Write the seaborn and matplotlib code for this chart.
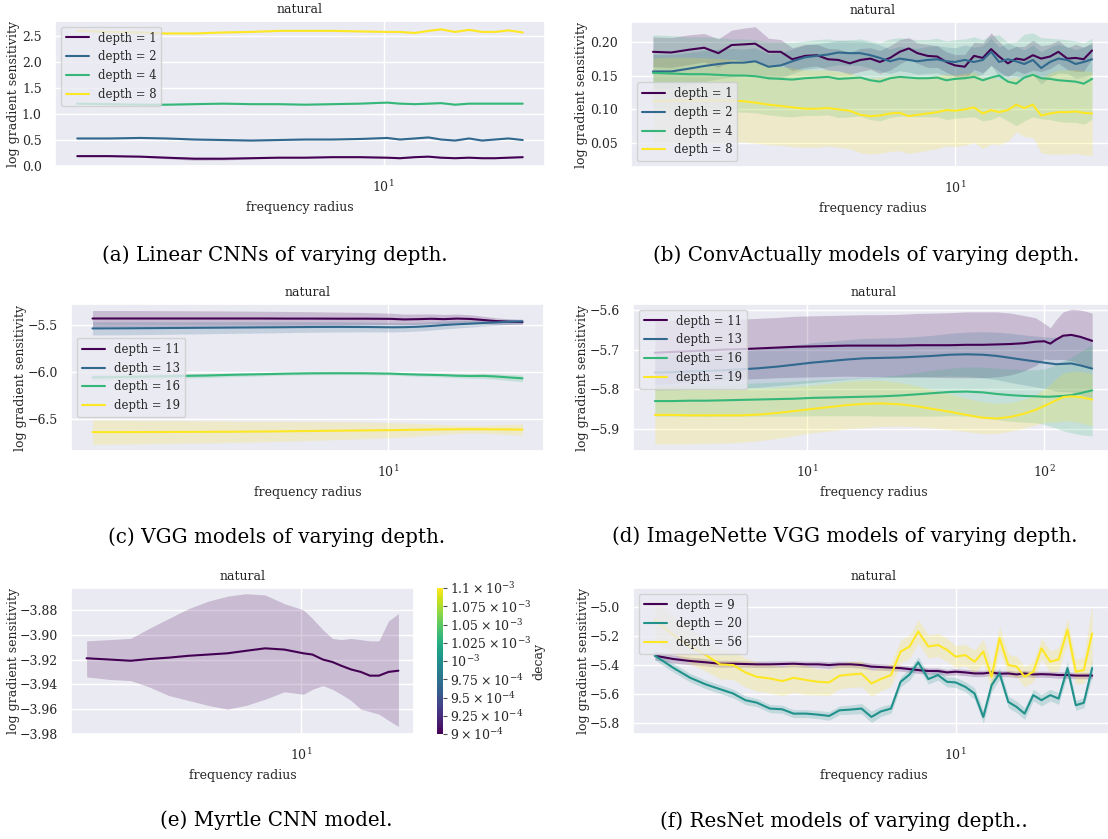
import numpy as np
import pandas as pd
import matplotlib
matplotlib.use("Agg")
import matplotlib.pyplot as plt
import seaborn as sns
from matplotlib.colors import Normalize
from matplotlib.cm import ScalarMappable
from matplotlib.lines import Line2D
from matplotlib.ticker import FixedLocator, NullFormatter

# ---------------- data ----------------
# CIFAR-type panels (a), (c), (e): frequency radius grid
XS = [1.66, 2.0, 2.4, 2.8, 3.3, 3.9, 4.6, 5.4, 6.3, 7.4, 8.7, 10.2, 11.0, 12.0, 13.0,
      14.0, 15.2, 16.5, 17.8, 19.2, 20.8, 22.6]
# denser grid for panels (b), (f)
XB = [1.66, 1.85, 2.05, 2.25, 2.45, 2.65, 2.85, 3.05, 3.3, 3.55, 3.8, 4.1, 4.4, 4.7, 5.0,
      5.35, 5.7, 6.05, 6.4, 6.8, 7.2, 7.6, 8.0, 8.5, 9.0, 9.5, 10.0, 10.6, 11.2, 11.8,
      12.4, 13.0, 13.7, 14.4, 15.1, 15.9, 16.7, 17.6, 18.5, 19.5, 20.5, 21.5, 22.6]
# ImageNette grid for panel (d)
XD = [2.29, 2.7, 3.2, 3.8, 4.5, 5.3, 6.3, 7.5, 8.9, 10.5, 12.5, 14.8, 17.5, 20.7, 24.5,
      29, 34, 40, 47, 55, 63, 72, 82, 92, 100, 106, 112, 120, 130, 142, 159]

# (a) Linear CNNs
A_DEPTHS = [1, 2, 4, 8]
A_Y = {
    1: [0.19, 0.19, 0.18, 0.16, 0.14, 0.14, 0.15, 0.16, 0.16, 0.17, 0.17, 0.16, 0.15, 0.17,
        0.18, 0.16, 0.15, 0.16, 0.15, 0.15, 0.16, 0.17],
    2: [0.53, 0.53, 0.54, 0.53, 0.51, 0.50, 0.49, 0.50, 0.51, 0.51, 0.52, 0.54, 0.51, 0.53,
        0.55, 0.51, 0.49, 0.53, 0.49, 0.51, 0.53, 0.50],
    4: [1.20, 1.19, 1.18, 1.18, 1.19, 1.20, 1.19, 1.19, 1.18, 1.19, 1.20, 1.22, 1.20, 1.19,
        1.20, 1.21, 1.18, 1.20, 1.20, 1.20, 1.20, 1.20],
    8: [2.60, 2.58, 2.57, 2.55, 2.55, 2.57, 2.58, 2.60, 2.60, 2.60, 2.59, 2.58, 2.58, 2.56,
        2.60, 2.63, 2.58, 2.62, 2.58, 2.58, 2.61, 2.57],
}
A_SD = {
    1: [0.010, 0.010, 0.012, 0.020, 0.030, 0.025, 0.015, 0.010, 0.010, 0.010, 0.010, 0.010,
        0.012, 0.010, 0.012, 0.010, 0.010, 0.012, 0.010, 0.010, 0.010, 0.010],
    2: [0.010, 0.010, 0.010, 0.012, 0.015, 0.015, 0.012, 0.010, 0.010, 0.010, 0.010, 0.012,
        0.012, 0.012, 0.015, 0.012, 0.012, 0.012, 0.012, 0.010, 0.010, 0.010],
    4: [0.010, 0.010, 0.012, 0.015, 0.012, 0.010, 0.010, 0.010, 0.010, 0.012, 0.010, 0.012,
        0.012, 0.010, 0.012, 0.012, 0.012, 0.012, 0.010, 0.010, 0.010, 0.010],
    8: [0.012, 0.012, 0.012, 0.012, 0.012, 0.012, 0.012, 0.012, 0.012, 0.012, 0.012, 0.012,
        0.012, 0.012, 0.015, 0.020, 0.015, 0.018, 0.012, 0.012, 0.012, 0.012],
}

# (b) ConvActually models
B_DEPTHS = [1, 2, 4, 8]
B_Y = {
    1: [0.185, 0.184, 0.188, 0.191, 0.183, 0.195, 0.196, 0.197, 0.185, 0.185, 0.174, 0.179,
        0.180, 0.174, 0.173, 0.168, 0.173, 0.175, 0.170, 0.176, 0.185, 0.190, 0.183, 0.179,
        0.178, 0.170, 0.165, 0.163, 0.179, 0.176, 0.189, 0.178, 0.168, 0.175, 0.173, 0.180,
        0.175, 0.178, 0.185, 0.175, 0.176, 0.174, 0.187],
    2: [0.156, 0.156, 0.160, 0.164, 0.167, 0.169, 0.169, 0.171, 0.163, 0.165, 0.171, 0.177,
        0.179, 0.181, 0.184, 0.183, 0.183, 0.180, 0.176, 0.171, 0.175, 0.173, 0.171, 0.173,
        0.174, 0.171, 0.170, 0.173, 0.170, 0.173, 0.185, 0.170, 0.174, 0.171, 0.167, 0.173,
        0.161, 0.170, 0.175, 0.173, 0.167, 0.170, 0.174],
    4: [0.154, 0.153, 0.152, 0.152, 0.151, 0.150, 0.150, 0.149, 0.146, 0.145, 0.144, 0.146,
        0.147, 0.148, 0.145, 0.146, 0.147, 0.143, 0.141, 0.146, 0.148, 0.147, 0.146, 0.146,
        0.147, 0.143, 0.145, 0.146, 0.148, 0.143, 0.147, 0.150, 0.141, 0.138, 0.147, 0.151,
        0.146, 0.145, 0.143, 0.142, 0.141, 0.138, 0.145],
    8: [0.112, 0.113, 0.113, 0.113, 0.113, 0.113, 0.112, 0.110, 0.107, 0.105, 0.103, 0.101,
        0.101, 0.102, 0.100, 0.098, 0.092, 0.090, 0.091, 0.094, 0.095, 0.090, 0.092, 0.094,
        0.096, 0.099, 0.098, 0.100, 0.103, 0.094, 0.099, 0.096, 0.099, 0.107, 0.102, 0.107,
        0.091, 0.094, 0.096, 0.096, 0.097, 0.095, 0.094],
}
B_SD = {
    1: [0.022, 0.022, 0.022, 0.021, 0.021, 0.022, 0.024, 0.025, 0.020, 0.018, 0.017, 0.017,
        0.016, 0.016, 0.016, 0.016, 0.017, 0.016, 0.017, 0.018, 0.018, 0.016, 0.015, 0.017,
        0.016, 0.015, 0.016, 0.018, 0.020, 0.022, 0.024, 0.022, 0.020, 0.018, 0.020, 0.022,
        0.019, 0.018, 0.017, 0.016, 0.020, 0.018, 0.012],
    2: [0.025, 0.025, 0.024, 0.023, 0.022, 0.021, 0.020, 0.020, 0.019, 0.019, 0.018, 0.018,
        0.018, 0.018, 0.018, 0.018, 0.018, 0.019, 0.019, 0.018, 0.018, 0.018, 0.019, 0.020,
        0.020, 0.021, 0.021, 0.022, 0.022, 0.021, 0.020, 0.022, 0.024, 0.022, 0.021, 0.022,
        0.024, 0.022, 0.021, 0.020, 0.021, 0.022, 0.022],
    4: [0.056, 0.056, 0.055, 0.055, 0.055, 0.054, 0.054, 0.054, 0.054, 0.055, 0.055, 0.055,
        0.056, 0.056, 0.057, 0.057, 0.057, 0.058, 0.058, 0.058, 0.058, 0.057, 0.057, 0.057,
        0.058, 0.058, 0.058, 0.058, 0.059, 0.060, 0.062, 0.060, 0.058, 0.062, 0.064, 0.062,
        0.060, 0.060, 0.061, 0.061, 0.060, 0.060, 0.060],
    8: [0.064, 0.064, 0.064, 0.063, 0.062, 0.061, 0.060, 0.060, 0.059, 0.058, 0.058, 0.057,
        0.057, 0.056, 0.056, 0.056, 0.056, 0.056, 0.056, 0.056, 0.056, 0.055, 0.055, 0.054,
        0.054, 0.053, 0.053, 0.053, 0.052, 0.052, 0.050, 0.048, 0.046, 0.040, 0.042, 0.048,
        0.055, 0.060, 0.062, 0.062, 0.062, 0.062, 0.062],
}

# (c) VGG models
C_DEPTHS = [11, 13, 16, 19]
C_Y = {
    11: [-5.430, -5.430, -5.430, -5.430, -5.430, -5.430, -5.430, -5.431, -5.431, -5.432,
         -5.432, -5.434, -5.440, -5.437, -5.433, -5.437, -5.431, -5.435, -5.446, -5.457,
         -5.464, -5.468],
    13: [-5.536, -5.535, -5.533, -5.531, -5.529, -5.527, -5.525, -5.523, -5.521, -5.520,
         -5.521, -5.524, -5.523, -5.518, -5.510, -5.500, -5.492, -5.485, -5.478, -5.472,
         -5.465, -5.460],
    16: [-6.060, -6.055, -6.050, -6.045, -6.040, -6.032, -6.026, -6.020, -6.016, -6.015,
         -6.016, -6.020, -6.025, -6.030, -6.033, -6.036, -6.042, -6.045, -6.044, -6.050,
         -6.060, -6.070],
    19: [-6.645, -6.645, -6.644, -6.643, -6.642, -6.641, -6.639, -6.636, -6.633, -6.630,
         -6.627, -6.624, -6.622, -6.620, -6.618, -6.616, -6.615, -6.614, -6.615, -6.616,
         -6.617, -6.618],
}
C_SD = {
    11: [0.085, 0.085, 0.084, 0.083, 0.082, 0.080, 0.078, 0.076, 0.073, 0.070, 0.066,
         0.060, 0.057, 0.055, 0.052, 0.050, 0.048, 0.045, 0.040, 0.035, 0.030, 0.025],
    13: [0.070, 0.070, 0.068, 0.066, 0.064, 0.062, 0.060, 0.058, 0.056, 0.054, 0.052,
         0.050, 0.048, 0.046, 0.044, 0.042, 0.040, 0.037, 0.034, 0.031, 0.028, 0.025],
    16: [0.030, 0.028, 0.026, 0.024, 0.022, 0.020, 0.018, 0.016, 0.015, 0.015, 0.015,
         0.016, 0.017, 0.018, 0.019, 0.020, 0.022, 0.024, 0.027, 0.030, 0.033, 0.036],
    19: [0.130, 0.128, 0.125, 0.122, 0.118, 0.114, 0.110, 0.105, 0.100, 0.095, 0.088,
         0.080, 0.075, 0.068, 0.060, 0.052, 0.045, 0.040, 0.042, 0.048, 0.055, 0.060],
}

# (d) ImageNette VGG models
D_DEPTHS = [11, 13, 16, 19]
D_Y = {
    11: [-5.708, -5.706, -5.704, -5.702, -5.700, -5.699, -5.697, -5.695, -5.693, -5.692,
         -5.691, -5.690, -5.690, -5.690, -5.690, -5.689, -5.689, -5.689, -5.688, -5.688,
         -5.687, -5.686, -5.684, -5.680, -5.679, -5.685, -5.675, -5.665, -5.663, -5.668,
         -5.678],
    13: [-5.758, -5.757, -5.755, -5.754, -5.752, -5.750, -5.747, -5.743, -5.738, -5.733,
         -5.729, -5.725, -5.722, -5.721, -5.720, -5.718, -5.716, -5.713, -5.712, -5.713,
         -5.716, -5.721, -5.726, -5.730, -5.733, -5.735, -5.737, -5.736, -5.735, -5.740,
         -5.748],
    16: [-5.830, -5.830, -5.829, -5.829, -5.828, -5.827, -5.826, -5.825, -5.824, -5.822,
         -5.821, -5.820, -5.819, -5.818, -5.816, -5.813, -5.810, -5.807, -5.806, -5.808,
         -5.812, -5.815, -5.817, -5.818, -5.819, -5.819, -5.818, -5.817, -5.815, -5.810,
         -5.803],
    19: [-5.865, -5.865, -5.866, -5.866, -5.866, -5.866, -5.864, -5.860, -5.855, -5.850,
         -5.845, -5.840, -5.837, -5.836, -5.838, -5.843, -5.850, -5.857, -5.865, -5.872,
         -5.874, -5.870, -5.862, -5.852, -5.842, -5.835, -5.828, -5.820, -5.818, -5.820,
         -5.826],
}
D_SD = {
    11: [0.080, 0.080, 0.078, 0.077, 0.076, 0.076, 0.076, 0.076, 0.077, 0.077, 0.077,
         0.077, 0.078, 0.078, 0.079, 0.080, 0.081, 0.082, 0.083, 0.083, 0.082, 0.078,
         0.070, 0.060, 0.045, 0.040, 0.050, 0.060, 0.065, 0.068, 0.070],
    13: [0.045, 0.045, 0.046, 0.046, 0.047, 0.047, 0.048, 0.048, 0.049, 0.050, 0.050,
         0.050, 0.050, 0.050, 0.050, 0.051, 0.052, 0.054, 0.056, 0.058, 0.060, 0.062,
         0.063, 0.064, 0.065, 0.066, 0.068, 0.070, 0.072, 0.074, 0.075],
    16: [0.038, 0.038, 0.039, 0.040, 0.040, 0.041, 0.042, 0.043, 0.044, 0.045, 0.046,
         0.047, 0.048, 0.050, 0.052, 0.055, 0.058, 0.060, 0.062, 0.064, 0.065, 0.066,
         0.066, 0.067, 0.070, 0.075, 0.080, 0.088, 0.095, 0.105, 0.115],
    19: [0.073, 0.073, 0.072, 0.071, 0.070, 0.068, 0.066, 0.064, 0.062, 0.060, 0.060,
         0.060, 0.060, 0.058, 0.055, 0.052, 0.048, 0.045, 0.042, 0.040, 0.038, 0.036,
         0.036, 0.038, 0.042, 0.048, 0.055, 0.060, 0.063, 0.065, 0.066],
}

# (e) Myrtle CNN model
E_DECAY = 9e-4
E_Y = [-3.919, -3.920, -3.921, -3.9196, -3.9185, -3.917, -3.916, -3.915, -3.913, -3.911,
       -3.912, -3.915, -3.916, -3.920, -3.922, -3.925, -3.928, -3.930, -3.933, -3.933,
       -3.930, -3.929]
E_HI = [-3.905, -3.904, -3.903, -3.895, -3.887, -3.879, -3.873, -3.869, -3.867, -3.868,
        -3.875, -3.880, -3.887, -3.896, -3.903, -3.904, -3.903, -3.904, -3.905, -3.905,
        -3.889, -3.883]
E_LO = [-3.934, -3.936, -3.937, -3.942, -3.949, -3.953, -3.957, -3.960, -3.957, -3.952,
        -3.946, -3.948, -3.944, -3.941, -3.944, -3.948, -3.953, -3.960, -3.962, -3.964,
        -3.969, -3.974]
DECAY_TICKS = [9e-4, 9.25e-4, 9.5e-4, 9.75e-4, 1e-3, 1.025e-3, 1.05e-3, 1.075e-3, 1.1e-3]
DECAY_LABELS = [r"$9\times10^{-4}$", r"$9.25\times10^{-4}$", r"$9.5\times10^{-4}$",
                r"$9.75\times10^{-4}$", r"$10^{-3}$", r"$1.025\times10^{-3}$",
                r"$1.05\times10^{-3}$", r"$1.075\times10^{-3}$", r"$1.1\times10^{-3}$"]

# (f) ResNet models
F_DEPTHS = [9, 20, 56]
F_Y = {
    9: [-5.334, -5.357, -5.371, -5.380, -5.390, -5.390, -5.392, -5.394, -5.394, -5.392,
        -5.390, -5.394, -5.394, -5.399, -5.394, -5.394, -5.399, -5.410, -5.413, -5.417,
        -5.420, -5.427, -5.434, -5.440, -5.440, -5.450, -5.445, -5.450, -5.457, -5.457,
        -5.450, -5.459, -5.457, -5.464, -5.457, -5.464, -5.462, -5.464, -5.468, -5.468,
        -5.472, -5.472, -5.472],
    20: [-5.334, -5.417, -5.487, -5.533, -5.566, -5.596, -5.642, -5.659, -5.700, -5.705,
         -5.735, -5.735, -5.742, -5.751, -5.712, -5.707, -5.700, -5.758, -5.720, -5.700,
         -5.515, -5.464, -5.380, -5.496, -5.468, -5.515, -5.519, -5.550, -5.596, -5.758,
         -5.538, -5.457, -5.654, -5.689, -5.735, -5.607, -5.642, -5.607, -5.631, -5.420,
         -5.677, -5.660, -5.420],
    56: [-5.086, -5.190, -5.271, -5.330, -5.394, -5.399, -5.450, -5.480, -5.492, -5.510,
         -5.487, -5.503, -5.515, -5.519, -5.473, -5.464, -5.459, -5.526, -5.496, -5.468,
         -5.306, -5.271, -5.167, -5.271, -5.260, -5.294, -5.341, -5.330, -5.376, -5.306,
         -5.480, -5.213, -5.399, -5.410, -5.480, -5.445, -5.283, -5.376, -5.360, -5.155,
         -5.445, -5.434, -5.180],
}
F_SD = {
    9: [0.030, 0.028, 0.026, 0.025, 0.024, 0.023, 0.022, 0.022, 0.023, 0.022, 0.021, 0.022,
        0.022, 0.023, 0.022, 0.021, 0.022, 0.023, 0.022, 0.022, 0.021, 0.022, 0.023, 0.022,
        0.022, 0.021, 0.022, 0.022, 0.023, 0.022, 0.021, 0.022, 0.022, 0.023, 0.022, 0.022,
        0.021, 0.022, 0.022, 0.023, 0.022, 0.022, 0.022],
    20: [0.030, 0.030, 0.030, 0.030, 0.030, 0.030, 0.030, 0.028, 0.028, 0.028, 0.028, 0.028,
         0.028, 0.030, 0.030, 0.032, 0.035, 0.040, 0.035, 0.032, 0.035, 0.040, 0.038, 0.035,
         0.035, 0.035, 0.035, 0.035, 0.040, 0.045, 0.045, 0.040, 0.040, 0.040, 0.040, 0.040,
         0.040, 0.040, 0.040, 0.045, 0.035, 0.035, 0.060],
    56: [0.150, 0.130, 0.120, 0.110, 0.100, 0.100, 0.100, 0.100, 0.100, 0.100, 0.100, 0.100,
         0.090, 0.090, 0.090, 0.090, 0.090, 0.090, 0.080, 0.080, 0.080, 0.080, 0.080, 0.080,
         0.080, 0.080, 0.075, 0.075, 0.080, 0.085, 0.090, 0.080, 0.075, 0.070, 0.070, 0.070,
         0.070, 0.075, 0.080, 0.080, 0.085, 0.090, 0.200],
}

# ---------------- style ----------------
sns.set_theme(style="darkgrid")
plt.rcParams.update({
    "font.family": ["DejaVu Serif"],
    "mathtext.fontset": "dejavuserif",
    "font.size": 9,
    "axes.labelsize": 9,
    "axes.titlesize": 9,
    "xtick.labelsize": 9,
    "ytick.labelsize": 9,
    "legend.fontsize": 8.4,
    "lines.linewidth": 1.5,
})

W, H = 1108, 839
fig = plt.figure(figsize=(W / 100, H / 100), dpi=100)


def box(l, t, r, b):
    return [l / W, 1 - b / H, (r - l) / W, (b - t) / H]


def viridis_levels(levels):
    cmap = plt.get_cmap("viridis")
    n = len(levels)
    return {d: cmap(i / (n - 1)) for i, d in enumerate(levels)}


def panel(rect, x, ys, sds, depths, ylim, yticks, ylabels, legend_loc, xmajor, ylab_x):
    ax = fig.add_axes(rect)
    pal = viridis_levels(depths)
    rows = []
    for d in depths:
        for xi, yi in zip(x, ys[d]):
            rows.append({"frequency radius": xi, "log gradient sensitivity": yi, "depth": d})
    df = pd.DataFrame(rows)
    for d in depths:
        y = np.array(ys[d])
        s = np.array(sds[d])
        ax.fill_between(x, y - s, y + s, color=pal[d], alpha=0.2, linewidth=0)
    sns.lineplot(data=df, x="frequency radius", y="log gradient sensitivity", hue="depth",
                 palette=pal, hue_order=depths, errorbar=None, legend=False, ax=ax,
                 linewidth=1.5)
    ax.set_xscale("log")
    ax.xaxis.set_major_locator(FixedLocator(xmajor))
    ax.xaxis.set_minor_formatter(NullFormatter())
    ax.set_ylim(*ylim)
    ax.set_yticks(yticks)
    ax.set_yticklabels(ylabels)
    ax.set_title("natural")
    ax.yaxis.set_label_coords(ylab_x, 0.5)
    handles = [Line2D([], [], color=pal[d], lw=1.5) for d in depths]
    ax.legend(handles, [f"depth = {d}" for d in depths], loc=legend_loc)
    return ax


def neg(v, fmt):
    return [("\u2212" + format(abs(t), fmt)) if t < 0 else format(t, fmt) for t in v]


# (a)
panel(box(55, 21, 545, 166), XS, A_Y, A_SD, A_DEPTHS, (0, 2.79),
      [0.0, 0.5, 1.0, 1.5, 2.0, 2.5], neg([0.0, 0.5, 1.0, 1.5, 2.0, 2.5], ".1f"),
      "upper left", [10], -0.071)
# (b)
panel(box(631, 22, 1114, 167), XB, B_Y, B_SD, B_DEPTHS, (0.015, 0.229),
      [0.05, 0.10, 0.15, 0.20], neg([0.05, 0.10, 0.15, 0.20], ".2f"),
      "lower left", [10], -0.089)
# (c)
panel(box(71, 304, 544, 451), XS, C_Y, C_SD, C_DEPTHS, (-6.847, -5.275),
      [-6.5, -6.0, -5.5], neg([-6.5, -6.0, -5.5], ".1f"), "center left", [10], -0.093)
# (d)
panel(box(633, 304, 1114, 451), XD, D_Y, D_SD, D_DEPTHS, (-5.956, -5.585),
      [-5.9, -5.8, -5.7, -5.6], neg([-5.9, -5.8, -5.7, -5.6], ".1f"), "upper left",
      [10, 100], -0.091)
# (f)
panel(box(633, 588, 1114, 734), XB, F_Y, F_SD, F_DEPTHS, (-5.876, -4.866),
      [-5.8, -5.6, -5.4, -5.2, -5.0], neg([-5.8, -5.6, -5.4, -5.2, -5.0], ".1f"),
      "upper left", [10], -0.089)

# (e)
axe = fig.add_axes(box(71, 588, 414, 734))
cmap = plt.get_cmap("viridis")
dnorm = Normalize(DECAY_TICKS[0], DECAY_TICKS[-1])
ecol = cmap(dnorm(E_DECAY))
axe.fill_between(XS, E_LO, E_HI, color=ecol, alpha=0.2, linewidth=0)
dfe = pd.DataFrame({"frequency radius": XS, "log gradient sensitivity": E_Y,
                    "decay": [E_DECAY] * len(XS)})
sns.lineplot(data=dfe, x="frequency radius", y="log gradient sensitivity", color=ecol,
             errorbar=None, ax=axe, linewidth=1.5)
axe.set_xscale("log")
axe.xaxis.set_major_locator(FixedLocator([10]))
axe.xaxis.set_minor_formatter(NullFormatter())
axe.set_ylim(-3.979, -3.8624)
eticks = [-3.98, -3.96, -3.94, -3.92, -3.90, -3.88]
axe.set_yticks(eticks)
axe.set_yticklabels(neg(eticks, ".2f"))
axe.set_title("natural")
axe.yaxis.set_label_coords(-0.149, 0.5)

cax = fig.add_axes(box(437, 588, 443, 734))
cb = fig.colorbar(ScalarMappable(norm=dnorm, cmap=cmap), cax=cax)
cb.set_ticks(DECAY_TICKS)
cb.set_ticklabels(DECAY_LABELS)
cb.outline.set_visible(False)
cax.tick_params(axis="y", which="major", length=3, width=0.8, color="0.3", pad=2,
                right=True)
cax.tick_params(axis="y", which="minor", length=0)
cb.set_label("decay", labelpad=1)

# captions
cap_kw = dict(ha="center", va="center", fontsize=14.3, family="DejaVu Serif", color="black")
fig.text(275 / W, 1 - 255 / H, "(a) Linear CNNs of varying depth.", **cap_kw)
fig.text(866 / W, 1 - 255 / H, "(b) ConvActually models of varying depth.", **cap_kw)
fig.text(277 / W, 1 - 537 / H, "(c) VGG models of varying depth.", **cap_kw)
fig.text(845 / W, 1 - 536 / H, "(d) ImageNette VGG models of varying depth.", **cap_kw)
fig.text(276 / W, 1 - 820 / H, "(e) Myrtle CNN model.", **cap_kw)
fig.text(844 / W, 1 - 821 / H, "(f) ResNet models of varying depth..", **cap_kw)

fig.savefig("out.png", dpi=100)
